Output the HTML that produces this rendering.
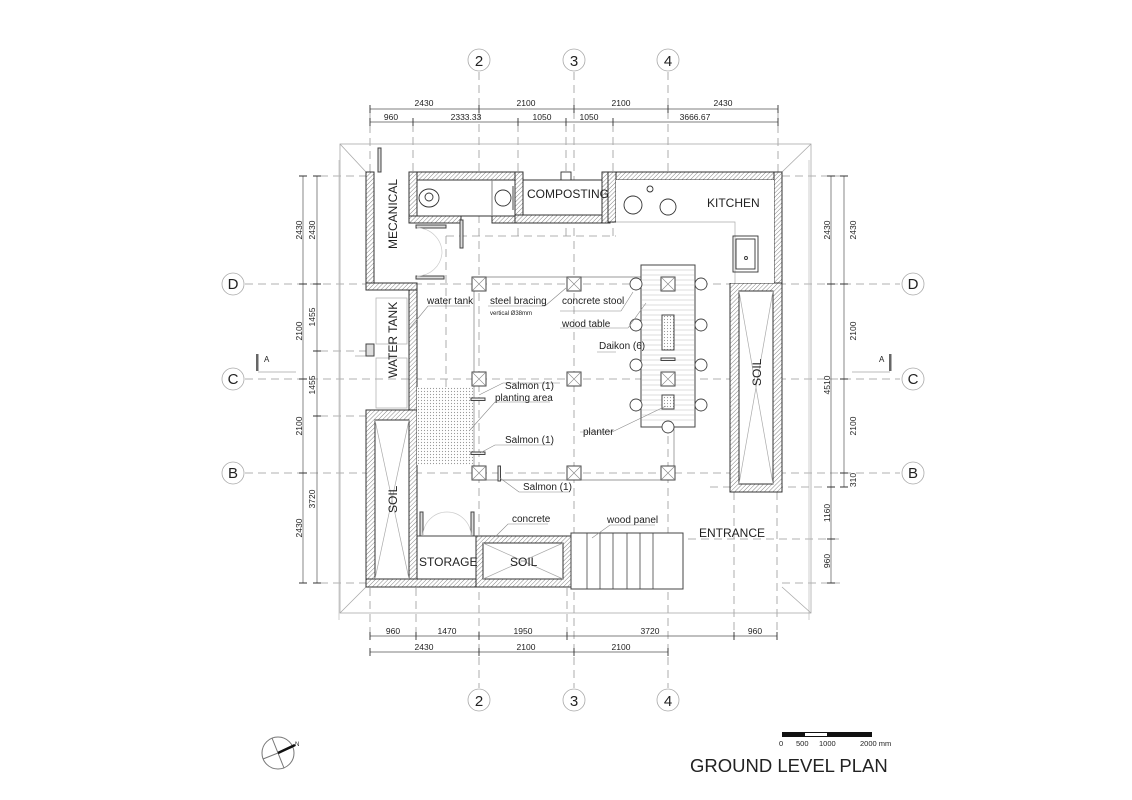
<!DOCTYPE html>
<html><head><meta charset="utf-8"><style>
body{margin:0;background:#fff}
svg{display:block}
text{font-family:"Liberation Sans",sans-serif;fill:#222}
</style></head><body>
<svg width="1132" height="800" viewBox="0 0 1132 800" xmlns="http://www.w3.org/2000/svg">
<defs>
<pattern id="h" width="3" height="3" patternUnits="userSpaceOnUse" patternTransform="rotate(45)">
<rect width="3" height="3" fill="#fff"/><line x1="0" y1="0" x2="0" y2="3" stroke="#777" stroke-width="0.9"/>
</pattern>
<pattern id="d" width="3" height="3" patternUnits="userSpaceOnUse"><rect width="3" height="3" fill="#fff"/><circle cx="1.5" cy="1.5" r="0.6" fill="#999"/></pattern>
<g id="c"><rect x="-7" y="-7" width="14" height="14" fill="#fff" stroke="#444"/><path d="M-7-7L7 7M7-7L-7 7" stroke="#888" stroke-width="0.6"/></g>
</defs>
<!-- grid lines -->
<g stroke="#999" stroke-width="0.8" stroke-dasharray="8,5" fill="none">
<line x1="479" y1="72" x2="479" y2="688"/><line x1="574" y1="72" x2="574" y2="688"/><line x1="668" y1="72" x2="668" y2="688"/>
<line x1="245" y1="284" x2="900" y2="284"/><line x1="245" y1="379" x2="900" y2="379"/><line x1="245" y1="473" x2="900" y2="473"/>
<line x1="370" y1="112" x2="370" y2="172"/><line x1="413" y1="124" x2="413" y2="172"/><line x1="518" y1="124" x2="518" y2="240"/><line x1="566" y1="124" x2="566" y2="240"/><line x1="613" y1="124" x2="613" y2="240"/><line x1="778" y1="112" x2="778" y2="172"/>
<line x1="320" y1="176" x2="366" y2="176"/><line x1="320" y1="351" x2="372" y2="351"/><line x1="320" y1="416" x2="372" y2="416"/><line x1="320" y1="583" x2="366" y2="583"/>
<line x1="782" y1="176" x2="840" y2="176"/><line x1="710" y1="487" x2="840" y2="487"/><line x1="571" y1="539" x2="840" y2="539"/><line x1="782" y1="583" x2="840" y2="583"/>
<line x1="370" y1="588" x2="370" y2="640"/><line x1="416" y1="588" x2="416" y2="640"/><line x1="567" y1="588" x2="567" y2="640"/><line x1="734" y1="492" x2="734" y2="640"/><line x1="777" y1="492" x2="777" y2="640"/>
<line x1="446" y1="236" x2="638" y2="236"/><line x1="446" y1="236" x2="446" y2="420"/><line x1="638" y1="236" x2="638" y2="265"/>
</g>
<!-- grid bubbles -->
<g fill="#fff" stroke="#aaa" stroke-width="0.8">
<circle cx="479" cy="60" r="11"/><circle cx="574" cy="60" r="11"/><circle cx="668" cy="60" r="11"/>
<circle cx="479" cy="700" r="11"/><circle cx="574" cy="700" r="11"/><circle cx="668" cy="700" r="11"/>
<circle cx="233" cy="284" r="11"/><circle cx="233" cy="379" r="11"/><circle cx="233" cy="473" r="11"/>
<circle cx="913" cy="284" r="11"/><circle cx="913" cy="379" r="11"/><circle cx="913" cy="473" r="11"/>
</g>
<g font-size="15" text-anchor="middle" style="font-family:'Liberation Serif',serif;fill:#666">
<text x="479" y="66">2</text><text x="574" y="66">3</text><text x="668" y="66">4</text>
<text x="479" y="706">2</text><text x="574" y="706">3</text><text x="668" y="706">4</text>
<text x="233" y="289">D</text><text x="233" y="384">C</text><text x="233" y="478">B</text>
<text x="913" y="289">D</text><text x="913" y="384">C</text><text x="913" y="478">B</text>
</g>
<!-- section marks -->
<rect x="256" y="354" width="2.5" height="17" fill="#666"/><line x1="258" y1="372" x2="296" y2="372" stroke="#bbb"/><text x="264" y="362" font-size="8">A</text>
<rect x="889" y="354" width="2.5" height="17" fill="#666"/><line x1="852" y1="372" x2="890" y2="372" stroke="#bbb"/><text x="879" y="362" font-size="8">A</text>
<!-- dimension lines -->
<g stroke="#555" stroke-width="0.7" fill="none">
<line x1="370" y1="109" x2="778" y2="109"/><line x1="370" y1="122" x2="778" y2="122"/>
<line x1="370" y1="636" x2="777" y2="636"/><line x1="370" y1="652" x2="668" y2="652"/>
<line x1="303" y1="176" x2="303" y2="583"/><line x1="317" y1="176" x2="317" y2="583"/>
<line x1="831" y1="176" x2="831" y2="583"/><line x1="844" y1="176" x2="844" y2="487"/>
<line x1="339" y1="160" x2="339" y2="620" stroke="#bbb"/><line x1="809" y1="160" x2="809" y2="620" stroke="#bbb"/>
</g>
<g stroke="#333" stroke-width="0.9">
<path d="M370 105v8M479 105v8M574 105v8M668 105v8M778 105v8M370 118v8M413 118v8M518 118v8M566 118v8M613 118v8M778 118v8"/>
<path d="M370 632v8M416 632v8M479 632v8M567 632v8M734 632v8M777 632v8M370 648v8M479 648v8M574 648v8M668 648v8"/>
<path d="M299 176h8M299 284h8M299 379h8M299 473h8M299 583h8M313 176h8M313 284h8M313 351h8M313 416h8M313 583h8"/>
<path d="M827 176h8M827 284h8M827 487h8M827 539h8M827 583h8M840 176h8M840 284h8M840 379h8M840 473h8M840 487h8"/>
</g>
<g font-size="8.5" text-anchor="middle">
<text x="424" y="106">2430</text><text x="526" y="106">2100</text><text x="621" y="106">2100</text><text x="723" y="106">2430</text>
<text x="391" y="120">960</text><text x="466" y="120">2333.33</text><text x="542" y="120">1050</text><text x="589" y="120">1050</text><text x="695" y="120">3666.67</text>
<text x="393" y="634">960</text><text x="447" y="634">1470</text><text x="523" y="634">1950</text><text x="650" y="634">3720</text><text x="755" y="634">960</text>
<text x="424" y="650">2430</text><text x="526" y="650">2100</text><text x="621" y="650">2100</text>
<g transform="rotate(-90)">
<text x="-230" y="302">2430</text><text x="-331" y="302">2100</text><text x="-426" y="302">2100</text><text x="-528" y="302">2430</text>
<text x="-230" y="315">2430</text><text x="-317" y="315">1455</text><text x="-385" y="315">1455</text><text x="-499" y="315">3720</text>
<text x="-230" y="830">2430</text><text x="-385" y="830">4510</text><text x="-513" y="830">1160</text><text x="-561" y="830">960</text>
<text x="-230" y="856">2430</text><text x="-331" y="856">2100</text><text x="-426" y="856">2100</text><text x="-480" y="856">310</text>
</g>
</g>
<!-- roof outline -->
<g stroke="#aaa" stroke-width="0.8" fill="none">
<rect x="340" y="144" width="471" height="469"/>
<line x1="340" y1="144" x2="366" y2="172"/><line x1="811" y1="144" x2="782" y2="172"/><line x1="340" y1="613" x2="366" y2="587"/><line x1="811" y1="613" x2="782" y2="587"/>
<line x1="355" y1="356" x2="366" y2="356"/>
</g>
<!-- walls -->
<g fill="url(#h)" stroke="#333" stroke-width="1">
<rect x="366" y="172" width="8" height="118"/>
<rect x="366" y="283" width="51" height="7"/>
<rect x="409" y="290" width="8" height="120"/>
<rect x="409" y="172" width="114" height="8"/>
<rect x="409" y="172" width="8" height="51"/>
<rect x="409" y="216" width="52" height="7"/>
<rect x="492" y="216" width="31" height="7"/>
<rect x="515" y="172" width="8" height="51"/>
<rect x="515" y="215" width="95" height="8"/>
<rect x="602" y="172" width="8" height="51"/>
<rect x="608" y="172" width="174" height="8"/>
<rect x="608" y="172" width="8" height="50"/>
<rect x="774" y="172" width="8" height="112"/>
<rect x="730" y="283" width="52" height="209"/>
<rect x="366" y="410" width="51" height="177"/>
<rect x="366" y="579" width="205" height="8"/>
<rect x="476" y="536" width="95" height="51"/>
</g>
<g fill="#fff" stroke="#333" stroke-width="1">
<rect x="739" y="291" width="34" height="193"/>
<rect x="375" y="420" width="34" height="159"/>
<rect x="483" y="543" width="80" height="36"/>
<rect x="417" y="180" width="75" height="36"/>
<rect x="523" y="180" width="79" height="35"/>
<rect x="616" y="180" width="158" height="103" stroke="none"/>
</g>
<g stroke="#aaa" stroke-width="0.7" fill="none">
<path d="M739 291L773 484M773 291L739 484M375 420L409 579M409 420L375 579M483 543L563 579M563 543L483 579"/>
<path d="M616 222H735V283"/>
<rect x="376" y="298" width="31" height="46"/><rect x="376" y="358" width="31" height="50"/>
<line x1="492" y1="180" x2="492" y2="216"/>
</g>
<!-- doors -->
<g stroke="#444" stroke-width="1" fill="#ddd">
<rect x="420" y="512" width="3" height="24"/><rect x="471" y="512" width="3" height="24"/>
<rect x="378" y="148" width="3" height="24"/><rect x="460" y="220" width="3" height="28"/>
<rect x="416" y="225" width="30" height="3"/><rect x="416" y="276" width="28" height="3"/>
<rect x="366" y="344" width="8" height="12"/>
</g>
<line x1="417" y1="536" x2="476" y2="536" stroke="#444"/>
<path d="M423 536a24 24 0 0 1 24-24M471 536a24 24 0 0 0-24-24M417 228a25 25 0 0 1 25 25M417 276a25 25 0 0 0 25-23" stroke="#ccc" fill="none" stroke-width="0.7"/>
<!-- fixtures -->
<g stroke="#333" stroke-width="0.9" fill="none">
<ellipse cx="429" cy="198" rx="10" ry="9"/><circle cx="429" cy="197" r="4"/>
<circle cx="503" cy="198" r="8"/><line x1="513" y1="186" x2="513" y2="210"/>
<circle cx="633" cy="205" r="9"/><circle cx="668" cy="207" r="8"/><circle cx="650" cy="189" r="3"/>
<rect x="733" y="236" width="25" height="36"/><rect x="736" y="239" width="19" height="30"/><circle cx="746" cy="258" r="1.5"/>
<rect x="561" y="172" width="10" height="8" fill="#fff"/>
</g>
<!-- planting area -->
<rect x="417" y="387" width="56" height="78" fill="url(#d)"/>
<!-- steel bracing lines -->
<g stroke="#999" stroke-width="0.9" fill="none">
<line x1="472" y1="277" x2="641" y2="277"/><line x1="472" y1="480" x2="674" y2="480"/><line x1="674" y1="427" x2="674" y2="480"/>
<line x1="474" y1="291" x2="474" y2="466"/>
</g>
<g stroke="#444" stroke-width="1" fill="#eee">
<rect x="471" y="398" width="14" height="2.5"/><rect x="471" y="452" width="14" height="2.5"/><rect x="498" y="466" width="2.5" height="15"/>
</g>
<!-- table -->
<rect x="641" y="265" width="54" height="162" fill="#fff" stroke="#444"/>
<g stroke="#bbb" stroke-width="0.6">
<path d="M642 270h52M642 275h52M642 280h52M642 285h52M642 290h52M642 295h52M642 300h52M642 305h52M642 310h52M642 315h52M642 320h52M642 325h52M642 330h52M642 335h52M642 340h52M642 345h52M642 350h52M642 355h52M642 360h52M642 365h52M642 370h52M642 375h52M642 380h52M642 385h52M642 390h52M642 395h52M642 400h52M642 405h52M642 410h52M642 415h52M642 420h52"/>
</g>
<rect x="662" y="315" width="12" height="35" fill="url(#d)" stroke="#444"/>
<rect x="662" y="395" width="12" height="14" fill="url(#d)" stroke="#444"/>
<rect x="661" y="358" width="14" height="2.5" fill="#eee" stroke="#444"/>
<g fill="#fff" stroke="#444" stroke-width="0.9">
<circle cx="636" cy="284" r="6"/><circle cx="701" cy="284" r="6"/>
<circle cx="636" cy="325" r="6"/><circle cx="701" cy="325" r="6"/>
<circle cx="636" cy="365" r="6"/><circle cx="701" cy="365" r="6"/>
<circle cx="636" cy="405" r="6"/><circle cx="701" cy="405" r="6"/>
<circle cx="668" cy="427" r="6"/>
</g>
<!-- columns -->
<use href="#c" x="479" y="284"/><use href="#c" x="574" y="284"/><use href="#c" x="668" y="284"/>
<use href="#c" x="479" y="379"/><use href="#c" x="574" y="379"/><use href="#c" x="668" y="379"/>
<use href="#c" x="479" y="473"/><use href="#c" x="574" y="473"/><use href="#c" x="668" y="473"/>
<!-- stairs -->
<rect x="571" y="533" width="112" height="56" fill="#fff" stroke="#444"/>
<path d="M587 533v56M600 533v56M613 533v56M627 533v56M640 533v56M653 533v56" stroke="#444" stroke-width="0.8"/>
<!-- leaders -->
<g stroke="#888" stroke-width="0.6" fill="none">
<path d="M470 306H428L410 328"/><path d="M545 306H488M545 306L566 288"/><path d="M621 311H560M621 311L633 292"/>
<path d="M628 328H560M628 328L646 303"/><path d="M616 352H597"/><path d="M560 383H503L479 395"/>
<path d="M550 402H495L470 430"/><path d="M553 445H495L480 453"/><path d="M570 492H519L500 478"/>
<path d="M612 432H580M612 432L666 406"/><path d="M548 524H508L496 536"/><path d="M655 525H610L592 538"/>
</g>
<!-- labels -->
<g font-size="10">
<text x="427" y="304">water tank</text><text x="490" y="304">steel bracing</text><text x="490" y="315" font-size="6">vertical Ø38mm</text>
<text x="562" y="304">concrete stool</text><text x="562" y="327">wood table</text><text x="599" y="349">Daikon (6)</text>
<text x="505" y="389">Salmon (1)</text><text x="495" y="401">planting area</text><text x="505" y="443">Salmon (1)</text>
<text x="523" y="490">Salmon (1)</text><text x="583" y="435">planter</text><text x="512" y="522">concrete</text><text x="607" y="523">wood panel</text>
</g>
<g font-size="12">
<text x="527" y="198">COMPOSTING</text><text x="707" y="207">KITCHEN</text><text x="699" y="537">ENTRANCE</text>
<text x="419" y="566">STORAGE</text><text x="510" y="566">SOIL</text>
<text transform="translate(397,249) rotate(-90)">MECANICAL</text>
<text transform="translate(397,378) rotate(-90)">WATER TANK</text>
<text transform="translate(397,513) rotate(-90)">SOIL</text>
<text transform="translate(761,386) rotate(-90)">SOIL</text>
</g>
<!-- scale bar -->
<rect x="782" y="732" width="90" height="5" fill="#111"/><rect x="805" y="733" width="22" height="3" fill="#fff"/>
<g font-size="7.5"><text x="779" y="746">0</text><text x="796" y="746">500</text><text x="819" y="746">1000</text><text x="860" y="746">2000 mm</text></g>
<text x="690" y="772" font-size="18.5">GROUND LEVEL PLAN</text>
<!-- north -->
<circle cx="278" cy="753" r="16" fill="none" stroke="#777"/>
<path d="M272 738L284 768M263 759L293 747" stroke="#777" fill="none"/>
<line x1="278" y1="753" x2="295" y2="745" stroke="#111" stroke-width="2.5"/>
<text x="295" y="746" font-size="6">N</text>
</svg>
</body></html>
